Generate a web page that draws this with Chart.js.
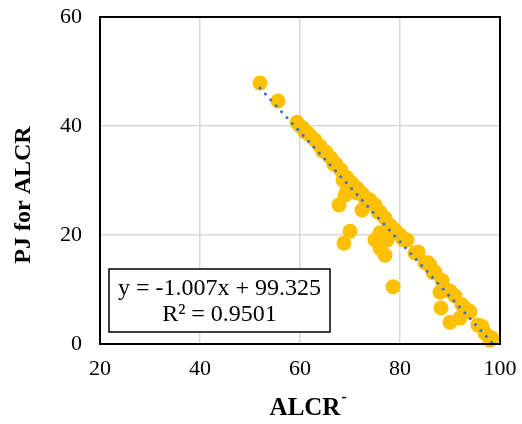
<!DOCTYPE html>
<html>
<head>
<meta charset="utf-8">
<script src="https://cdn.jsdelivr.net/npm/chart.js@4/dist/chart.umd.min.js"></script>
<style>
  html, body { margin: 0; padding: 0; background: #fff; }
  #wrap { width: 522px; height: 424px; }
</style>
</head>
<body>
<div id="wrap"><canvas id="c" width="522" height="424"></canvas></div>
<script>
// ---- data ----
const alcr = [52.0, 55.6, 59.4, 60.0, 60.6, 61.4, 62.0, 63.0, 64.0, 65.2,
              66.2, 67.2, 68.2, 69.4, 68.6, 69.4, 69.0, 70.4, 71.4, 72.4,
              73.4, 74.0, 75.0, 76.0, 77.0, 78.0, 79.0, 80.0, 81.4, 77.4,
              76.0, 75.0, 67.8, 72.4, 70.0, 68.8, 78.6, 77.0, 76.0, 83.6,
              85.0, 85.6, 87.0, 88.4, 89.4, 91.0, 92.4, 94.0, 95.6, 97.0,
              98.4, 98.0, 88.2, 90.0, 92.0, 88.0, 71.4, 81.0, 83.0, 86.0,
              61.0, 64.5, 66.8, 70.8, 73.0, 75.6, 78.6, 80.6, 86.6, 90.0,
              93.4, 96.4];
const pj   = [47.9, 44.6, 40.7, 40.0, 39.6, 38.8, 38.3, 37.4, 36.3, 35.2,
              34.1, 33.0, 31.9, 30.5, 30.1, 28.3, 27.3, 29.5, 28.6, 27.6,
              26.7, 26.4, 25.5, 24.2, 23.1, 21.8, 20.9, 20.0, 19.1, 19.1,
              20.4, 19.1, 25.5, 24.6, 20.7, 18.5, 10.5, 16.3, 17.6, 16.9,
              14.9, 14.9, 13.2, 11.7, 9.9, 8.8, 7.2, 5.9, 3.5, 2.0,
              1.1, 0.7, 6.6, 4.0, 4.8, 9.5, 27.7, 19.1, 16.7, 14.5,
              38.9, 35.4, 33.0, 29.0, 26.8, 24.2, 21.2, 19.2, 13.1, 9.7,
              6.3, 3.2];
const trendSlope = -1.007;
const trendIntercept = 99.325;
const trendX = [52.0, 98.4];
const xTicks = [20, 40, 60, 80, 100];
const yTicks = [0, 20, 40, 60];
const eqText = "y = -1.007x + 99.325";
const r2Text = "R\u00B2 = 0.9501";
const xTitle = "ALCR";
const xTitleSup = "-";
const yTitle = "PJ for ALCR";

const points = alcr.map((x, i) => ({ x: x, y: pj[i] }));
const trendPts = trendX.map(x => ({ x: x, y: trendSlope * x + trendIntercept }));

const SERIF = "'Liberation Serif', 'Times New Roman', serif";

const decor = {
  id: 'decor',
  afterDatasetsDraw(chart) {
    const ctx = chart.ctx;
    const a = chart.chartArea;
    ctx.save();
    // plot border
    ctx.strokeStyle = '#000';
    ctx.lineWidth = 2;
    ctx.strokeRect(a.left, a.top, a.right - a.left, a.bottom - a.top);
    // equation box
    ctx.fillStyle = '#fff';
    ctx.fillRect(109, 269, 221, 63);
    ctx.lineWidth = 1.5;
    ctx.strokeRect(109, 269, 221, 63);
    ctx.fillStyle = '#000';
    ctx.font = '24px ' + SERIF;
    ctx.textAlign = 'center';
    ctx.textBaseline = 'middle';
    ctx.fillText(eqText, 219.5, 289);
    ctx.fillText(r2Text, 219.5, 315);
    // x title
    ctx.font = 'bold 25px ' + SERIF;
    const w = ctx.measureText(xTitle).width;
    const cx = (a.left + a.right) / 2;
    ctx.textAlign = 'left';
    ctx.textBaseline = 'alphabetic';
    ctx.fillText(xTitle, cx - w / 2 + 5, 415);
    ctx.font = 'bold 16px ' + SERIF;
    ctx.fillText(xTitleSup, cx + w / 2 + 6, 402);
    // y title
    ctx.font = 'bold 24px ' + SERIF;
    ctx.translate(24, 195);
    ctx.rotate(-Math.PI / 2);
    ctx.textAlign = 'center';
    ctx.textBaseline = 'middle';
    ctx.fillText(yTitle, 0, 0);
    ctx.restore();
  }
};

new Chart(document.getElementById('c'), {
  type: 'scatter',
  data: {
    datasets: [
      {
        label: 'Trend',
        type: 'line',
        data: trendPts,
        order: 0,
        borderColor: '#4472C4',
        borderWidth: 3,
        borderDash: [0.1, 7.9],
        borderCapStyle: 'round',
        pointRadius: 0,
        fill: false,
        showLine: true
      },
      {
        label: 'PJ',
        data: points,
        order: 1,
        backgroundColor: '#FFC000',
        borderColor: '#FFC000',
        pointRadius: 7.5,
        pointHoverRadius: 7.5,
        borderWidth: 0,
        clip: false
      }
    ]
  },
  options: {
    responsive: false,
    animation: false,
    events: [],
    layout: { padding: { left: 0, top: 17, right: 22, bottom: 0 } },
    plugins: { legend: { display: false }, tooltip: { enabled: false } },
    scales: {
      x: {
        type: 'linear',
        min: 20, max: 100,
        afterFit(s) { s.height = 80; s.paddingLeft = 0; s.paddingRight = 0; },
        afterBuildTicks(s) { s.ticks = xTicks.map(v => ({ value: v })); },
        grid: { color: '#d9d9d9', lineWidth: 1.5, drawTicks: false },
        border: { display: false },
        ticks: { color: '#000', font: { family: SERIF, size: 22 }, padding: 12 }
      },
      y: {
        type: 'linear',
        min: 0, max: 60,
        afterFit(s) { s.width = 100; s.paddingTop = 0; s.paddingBottom = 0; },
        afterBuildTicks(s) { s.ticks = yTicks.map(v => ({ value: v })); },
        grid: { color: '#d9d9d9', lineWidth: 1.5, drawTicks: false },
        border: { display: false },
        ticks: { color: '#000', font: { family: SERIF, size: 22 }, padding: 18 }
      }
    }
  },
  plugins: [decor]
});
</script>
</body>
</html>
